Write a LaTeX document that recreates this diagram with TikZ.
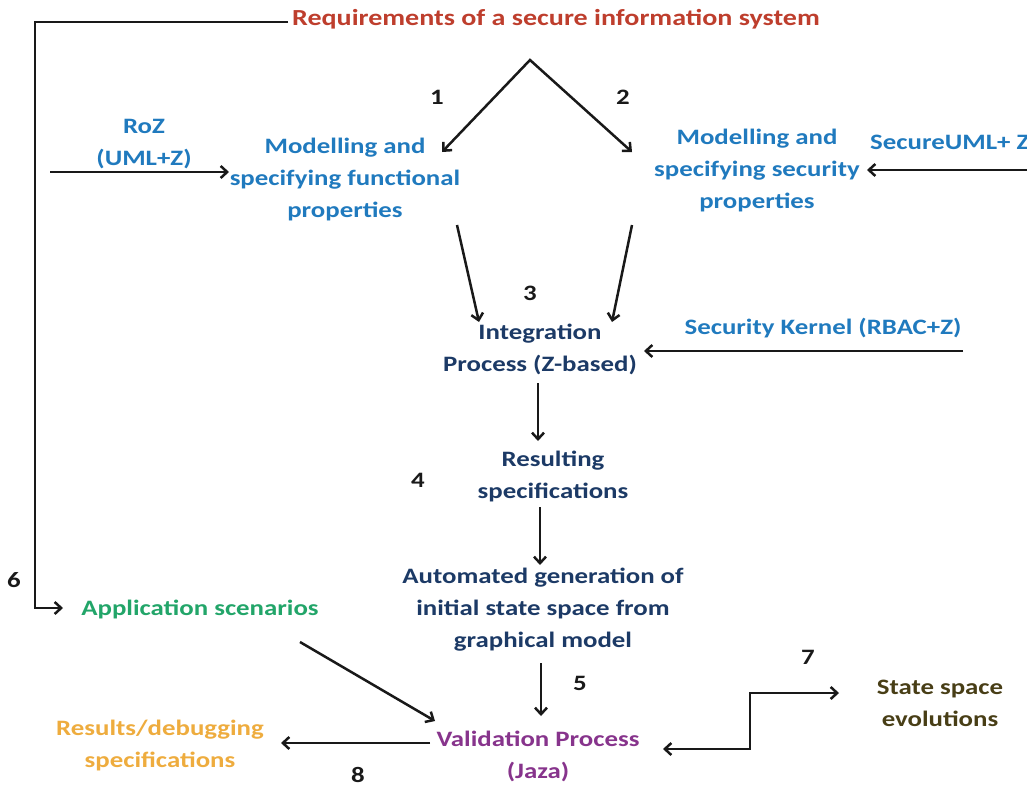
\documentclass[tikz,border=0pt]{standalone}
\usepackage{fontspec}
\setmainfont{Carlito}[FakeStretch=1.22]
\usetikzlibrary{arrows.meta}
\definecolor{reqred}{RGB}{190,62,45}
\definecolor{mblue}{RGB}{32,122,190}
\definecolor{navy}{RGB}{28,58,102}
\definecolor{sgreen}{RGB}{34,165,105}
\definecolor{rorange}{RGB}{238,172,62}
\definecolor{vpurple}{RGB}{135,52,140}
\definecolor{olive}{RGB}{72,62,22}
\definecolor{ink}{RGB}{25,25,25}
\begin{document}
\begin{tikzpicture}[x=1pt,y=-1pt,
  lbl/.style={font=\fontsize{22}{32}\selectfont\bfseries, align=center, inner sep=0pt},
  num/.style={font=\fontsize{22}{24}\selectfont\bfseries, text=ink, inner sep=0pt},
  arr/.style={draw=ink, line width=2.5pt, -{Straight Barb[length=6.5pt,width=12pt]}},
  darr/.style={draw=ink, line width=2.5pt, {Straight Barb[length=6.5pt,width=12pt]}-{Straight Barb[length=6.5pt,width=12pt]}}]
\useasboundingbox (0,0) rectangle (1027,787);
% nodes
\node[lbl, text=reqred, font=\fontsize{23}{32}\selectfont\bfseries] (req) at (556,19) {Requirements of a secure information system};
\node[lbl, text=mblue] (roz) at (144,144) {RoZ\\(UML+Z)};
\node[lbl, text=mblue] (mf) at (345,180) {Modelling and\\specifying functional\\properties};
\node[lbl, text=mblue] (ms) at (757,171) {Modelling and\\specifying security\\properties};
\node[lbl, text=mblue, anchor=west] (sum) at (870,142) {SecureUML+ Z};
\node[lbl, text=navy] (ip) at (540,349) {Integration\\Process (Z-based)};
\node[lbl, text=mblue] (sk) at (823,328) {Security Kernel (RBAC+Z)};
\node[lbl, text=navy] (rs) at (553,476) {Resulting\\specifications};
\node[lbl, text=navy] (ag) at (543,610) {Automated generation of\\initial state space from\\graphical model};
\node[lbl, text=sgreen] (as) at (200,609) {Application scenarios};
\node[lbl, text=vpurple] (vp) at (538,756) {Validation Process\\(Jaza)};
\node[lbl, text=rorange] (rd) at (160,745) {Results/debugging\\specifications};
\node[lbl, text=olive] (ss) at (940,703) {State space\\evolutions};
\node[num] (n1) at (437,97) {1};
\node[num] (n2) at (623,97) {2};
\node[num] (n3) at (530,293) {3};
\node[num] (n4) at (418,480) {4};
\node[num] (n5) at (580,683) {5};
\node[num] (n6) at (14,580) {6};
\node[num] (n7) at (808,657) {7};
\node[num] (n8) at (358,775) {8};
% coordinates
\coordinate (reqL) at (288,22);
\coordinate (loopTL) at (35,22);
\coordinate (loopBL) at (35,608);
\coordinate (asL) at (63,608);
\coordinate (apex) at (530,60);
\coordinate (mfT) at (442,152);
\coordinate (msT) at (632,152);
\coordinate (rozS) at (50,172);
\coordinate (mfL) at (229,172);
\coordinate (sumE) at (1027,170);
\coordinate (msR) at (867,170);
\coordinate (mfB) at (457,225);
\coordinate (ipL) at (479,322);
\coordinate (msB) at (632,225);
\coordinate (ipR) at (612,322);
\coordinate (skE) at (963,351);
\coordinate (ipE) at (644,351);
\coordinate (ipB) at (538,383);
\coordinate (rsT) at (538,441);
\coordinate (rsB) at (540,507);
\coordinate (agT) at (540,565);
\coordinate (agB) at (541,663);
\coordinate (vpT) at (541,716);
\coordinate (asB) at (300,642);
\coordinate (vpL) at (435,721);
\coordinate (vpW) at (430,743);
\coordinate (rdE) at (281,743);
\coordinate (vpE) at (663,749);
\coordinate (stepA) at (750,749);
\coordinate (stepB) at (750,693);
\coordinate (ssW) at (839,693);
% connectors
\draw[arr] (reqL) -- (loopTL) -- (loopBL) -- (asL);
\draw[darr] (mfT) -- (apex) -- (msT);
\draw[arr] (rozS) -- (mfL);
\draw[arr] (sumE) -- (msR);
\draw[arr] (mfB) -- (ipL);
\draw[arr] (msB) -- (ipR);
\draw[arr] (skE) -- (ipE);
\draw[arr] (ipB) -- (rsT);
\draw[arr] (rsB) -- (agT);
\draw[arr] (agB) -- (vpT);
\draw[arr] (asB) -- (vpL);
\draw[arr] (vpW) -- (rdE);
\draw[darr] (vpE) -- (stepA) -- (stepB) -- (ssW);
\end{tikzpicture}
\end{document}
